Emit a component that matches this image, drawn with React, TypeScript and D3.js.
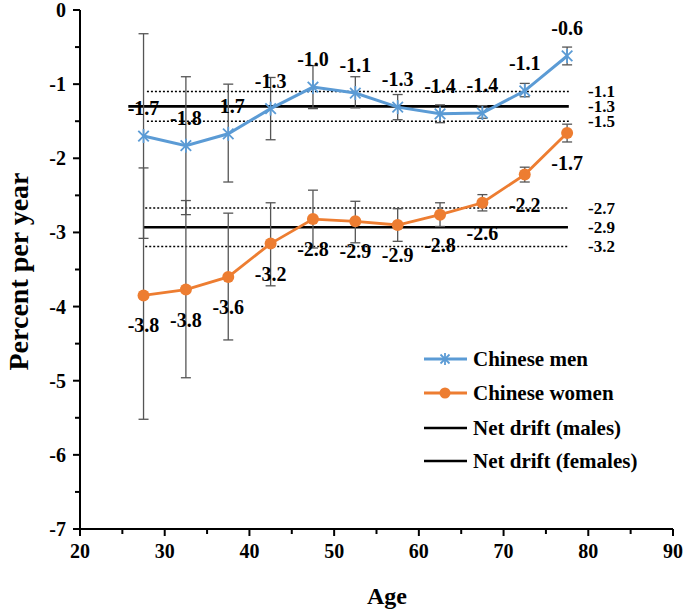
import React from 'react';
import * as d3 from 'd3';

// age group midpoints
const ages = [27.5, 32.5, 37.5, 42.5, 47.5, 52.5, 57.5, 62.5, 67.5, 72.5, 77.5];

const menValues = [-1.70, -1.83, -1.67, -1.33, -1.04, -1.12, -1.31, -1.40, -1.39, -1.09, -0.62];
const menLower = [-3.08, -2.76, -2.32, -1.75, -1.33, -1.32, -1.48, -1.52, -1.46, -1.17, -0.74];
const menUpper = [-0.32, -0.90, -1.00, -0.91, -0.75, -0.90, -1.14, -1.28, -1.29, -0.99, -0.50];
const menLabels = ['-1.7', '-1.8', '1.7', '-1.3', '-1.0', '-1.1', '-1.3', '-1.4', '-1.4', '-1.1', '-0.6'];

const womenValues = [-3.85, -3.77, -3.60, -3.15, -2.82, -2.85, -2.90, -2.76, -2.60, -2.22, -1.66];
const womenLower = [-5.52, -4.96, -4.45, -3.72, -3.21, -3.14, -3.12, -2.92, -2.71, -2.32, -1.78];
const womenUpper = [-2.13, -2.57, -2.74, -2.60, -2.43, -2.58, -2.68, -2.60, -2.49, -2.12, -1.54];
const womenLabels = ['-3.8', '-3.8', '-3.6', '-3.2', '-2.8', '-2.9', '-2.9', '-2.8', '-2.6', '-2.2', '-1.7'];

// net drift: [estimate, upper CI, lower CI]
const driftMales = [-1.30, -1.10, -1.50];
const driftFemales = [-2.93, -2.67, -3.19];
const driftMalesLabels = ['-1.3', '-1.1', '-1.5'];
const driftFemalesLabels = ['-2.9', '-2.7', '-3.2'];
// age span of the drift lines: [solid start, dotted start, end]
const driftMalesSpan = [25.7, 27.9, 77.7];
const driftFemalesSpan = [27.5, 27.7, 77.6];

const xTicks = [20, 30, 40, 50, 60, 70, 80, 90];
const yTicks = [0, -1, -2, -3, -4, -5, -6, -7];

const legendItems = ['Chinese men', 'Chinese women', 'Net drift (males)', 'Net drift (females)'];

const BLUE = '#5B9BD5';
const ORANGE = '#ED7D31';
const BAR = '#555555';
const FONT = "'Liberation Serif', 'Times New Roman', Times, serif";

const W = 685;
const H = 614;

const x = d3.scaleLinear().domain([20, 90]).range([80, 673]);
const y = d3.scaleLinear().domain([-7, 0]).range([529, 10]);

const Star = ({ cx, cy, r }: { cx: number; cy: number; r: number }) => {
  const d = r * 0.75;
  return (
    <g stroke={BLUE} strokeWidth={1.8}>
      <line x1={cx - d} y1={cy - d} x2={cx + d} y2={cy + d} />
      <line x1={cx - d} y1={cy + d} x2={cx + d} y2={cy - d} />
      <line x1={cx} y1={cy - r} x2={cx} y2={cy + r} />
    </g>
  );
};

const App: React.FC = () => {
  const line = d3.line<number>()
    .x((_, i) => x(ages[i]))
    .y(d => y(d));

  const minorX = d3.range(25, 90, 10);
  const minorY = d3.range(-0.5, -7, -1);

  const errorBars = (lo: number[], hi: number[], key: string) =>
    ages.map((a, i) => (
      <g key={key + i} stroke={BAR} strokeWidth={1.3}>
        <line x1={x(a)} x2={x(a)} y1={y(lo[i])} y2={y(hi[i])} />
        <line x1={x(a) - 5} x2={x(a) + 5} y1={y(lo[i])} y2={y(lo[i])} />
        <line x1={x(a) - 5} x2={x(a) + 5} y1={y(hi[i])} y2={y(hi[i])} />
      </g>
    ));

  const driftLines = (vals: number[], span: number[], labels: string[], key: string) => (
    <g key={key}>
      <line x1={x(span[0])} x2={x(span[2])} y1={y(vals[0])} y2={y(vals[0])} stroke="#000" strokeWidth={2.6} />
      {[1, 2].map(k => (
        <line key={k} x1={x(span[1])} x2={x(span[2])} y1={y(vals[k])} y2={y(vals[k])}
          stroke="#000" strokeWidth={1.5} strokeDasharray="2 2" />
      ))}
      {vals.map((v, k) => (
        <text key={'t' + k} x={588} y={y(v)} dy="0.33em"
          fontSize={17} fontWeight="bold">{labels[k]}</text>
      ))}
    </g>
  );

  const legendY = [359, 393, 428, 461];

  return (
    <svg width={W} height={H} style={{ position: 'absolute', left: 0, top: 0, background: '#fff', fontFamily: FONT }}>
      {/* axes */}
      <g stroke="#000" strokeWidth={2}>
        <line x1={x(20)} x2={x(20)} y1={y(0)} y2={y(-7) + 1} />
        <line x1={x(20) - 1} x2={x(90)} y1={y(-7)} y2={y(-7)} />
        {yTicks.map(t => <line key={'yt' + t} x1={x(20) - 7} x2={x(20)} y1={y(t)} y2={y(t)} />)}
        {minorY.map(t => <line key={'ym' + t} x1={x(20) - 5} x2={x(20)} y1={y(t)} y2={y(t)} />)}
        {xTicks.map(t => <line key={'xt' + t} x1={x(t)} x2={x(t)} y1={y(-7)} y2={y(-7) + 7} />)}
        {minorX.map(t => <line key={'xm' + t} x1={x(t)} x2={x(t)} y1={y(-7)} y2={y(-7) + 5} />)}
      </g>
      {yTicks.map(t => (
        <text key={'yl' + t} x={x(20) - 14} y={y(t)} dy="0.35em" textAnchor="end"
          fontSize={20} fontWeight="bold">{t}</text>
      ))}
      {xTicks.map(t => (
        <text key={'xl' + t} x={x(t)} y={y(-7) + 29} textAnchor="middle"
          fontSize={20} fontWeight="bold">{t}</text>
      ))}
      <text x={387} y={604} textAnchor="middle" fontSize={24} fontWeight="bold">Age</text>
      <text transform={`translate(28,${(y(0) + y(-7)) / 2 + 2}) rotate(-90)`} textAnchor="middle"
        fontSize={28} fontWeight="bold">Percent per year</text>

      {/* net drift */}
      {driftLines(driftMales, driftMalesSpan, driftMalesLabels, 'dm')}
      {driftLines(driftFemales, driftFemalesSpan, driftFemalesLabels, 'df')}

      {/* error bars */}
      {errorBars(menLower, menUpper, 'em')}
      {errorBars(womenLower, womenUpper, 'ew')}

      {/* series */}
      <path d={line(menValues) || ''} fill="none" stroke={BLUE} strokeWidth={3} />
      {menValues.map((v, i) => <Star key={'s' + i} cx={x(ages[i])} cy={y(v)} r={7} />)}
      <path d={line(womenValues) || ''} fill="none" stroke={ORANGE} strokeWidth={2.8} />
      {womenValues.map((v, i) => <circle key={'c' + i} cx={x(ages[i])} cy={y(v)} r={6} fill={ORANGE} />)}

      {/* point labels */}
      {menValues.map((v, i) => (
        <text key={'ml' + i} x={x(ages[i]) + (menLabels[i].startsWith('-') ? 0 : 4)} y={y(v) - 28} dy="0.35em"
          textAnchor="middle" fontSize={20} fontWeight="bold">{menLabels[i]}</text>
      ))}
      {womenValues.map((v, i) => (
        <text key={'wl' + i} x={x(ages[i])} y={y(v) + 30} dy="0.35em"
          textAnchor="middle" fontSize={20} fontWeight="bold">{womenLabels[i]}</text>
      ))}

      {/* legend */}
      <g>
        {legendItems.map((name, i) => {
          const ly = legendY[i];
          const color = i === 0 ? BLUE : i === 1 ? ORANGE : '#000';
          return (
            <g key={name}>
              <line x1={424} x2={467} y1={ly} y2={ly} stroke={color} strokeWidth={i < 2 ? 3 : 2.6} />
              {i === 0 && <Star cx={445} cy={ly} r={6} />}
              {i === 1 && <circle cx={445} cy={ly} r={5.5} fill={ORANGE} />}
              <text x={473} y={ly} dy="0.35em" fontSize={21} fontWeight="bold">{name}</text>
            </g>
          );
        })}
      </g>
    </svg>
  );
};

export default App;
